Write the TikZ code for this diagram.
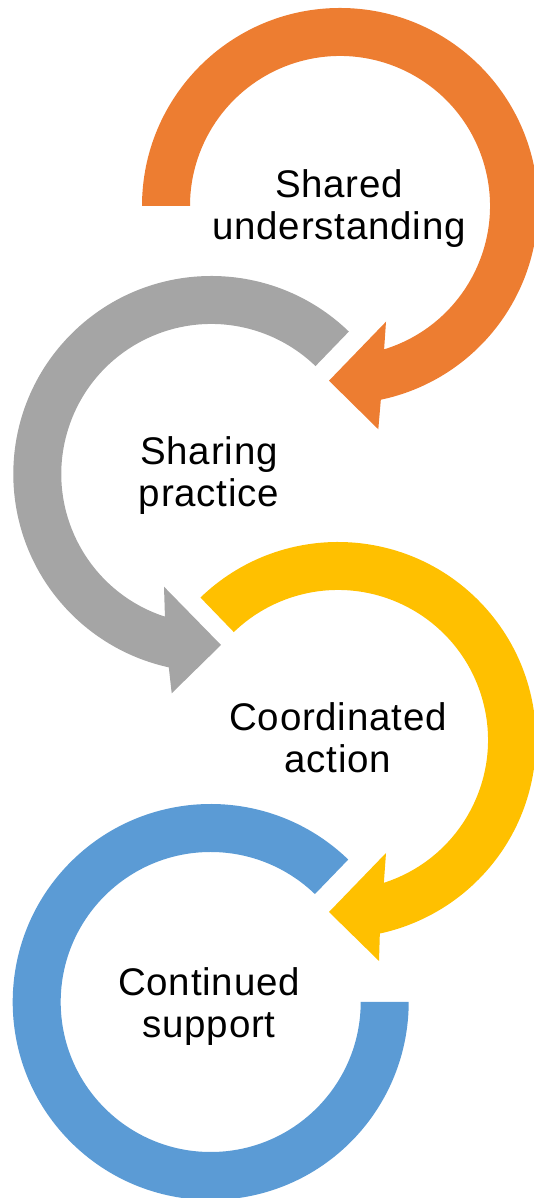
\documentclass[tikz,border=0pt]{standalone}
\usepackage{fontspec}
\setmainfont{Liberation Sans}
\newfontfamily\lblfont[LetterSpace=2.0]{Liberation Sans}
\usetikzlibrary{calc}
\definecolor{cOrange}{HTML}{ED7D31}
\definecolor{cGray}{HTML}{A5A5A5}
\definecolor{cYellow}{HTML}{FFC000}
\definecolor{cBlue}{HTML}{5B9BD5}
\tikzset{
  ring/.style={draw=none},
  lbl/.style={anchor=base, inner sep=0pt, font=\lblfont\fontsize{38.5}{41.7}\selectfont}
}
\newcommand{\twolines}[2]{\begin{tabular}[t]{@{}c@{}}#1\\#2\end{tabular}}
\begin{document}
\begin{tikzpicture}[x=1pt,y=1pt]
\useasboundingbox (0,0) rectangle (533,1198);
% centres
\coordinate (O1) at (340,992);
\coordinate (O2) at (211.3,724);
\coordinate (O3) at (338,458);
\coordinate (O4) at (210.7,196);
% arrowhead points
\coordinate (A1o) at (378.3,768.7);
\coordinate (A1t) at (329,817.3);
\coordinate (A1i) at (386,876.3);
\coordinate (A2o) at (171.7,504.7);
\coordinate (A2t) at (221,553);
\coordinate (A2i) at (164,611.3);
\coordinate (A3o) at (379,237);
\coordinate (A3t) at (329,286);
\coordinate (A3i) at (386,345);
% orange
\fill[cOrange, ring] ($(O1)+(180:198)$) arc[start angle=180, end angle=-78.1, radius=198]
  -- (A1o) -- (A1t) -- (A1i) -- ($(O1)+(-72.9:150)$)
  arc[start angle=-72.9, end angle=180, radius=150] -- cycle;
% gray
\fill[cGray, ring] ($(O2)+(46:198)$) arc[start angle=46, end angle=257.6, radius=198]
  -- (A2o) -- (A2t) -- (A2i) -- ($(O2)+(252:150)$)
  arc[start angle=252, end angle=46, radius=150] -- cycle;
% yellow
\fill[cYellow, ring] ($(O3)+(134:198)$) arc[start angle=134, end angle=-77.8, radius=198]
  -- (A3o) -- (A3t) -- (A3i) -- ($(O3)+(-72.2:150)$)
  arc[start angle=-72.2, end angle=134, radius=150] -- cycle;
% blue
\fill[cBlue, ring] ($(O4)+(46:198)$) arc[start angle=46, end angle=360, radius=198]
  -- ($(O4)+(0:150)$) arc[start angle=360, end angle=46, radius=150] -- cycle;
% labels
\node[lbl] (t1) at (339,1000.3) {\twolines{Shared}{understanding}};
\node[lbl] (t2) at (209,733) {\twolines{Sharing}{practice}};
\node[lbl] (t3) at (338,467.3) {\twolines{Coordinated}{action}};
\node[lbl] (t4) at (209,202) {\twolines{Continued}{support}};
\end{tikzpicture}
\end{document}
